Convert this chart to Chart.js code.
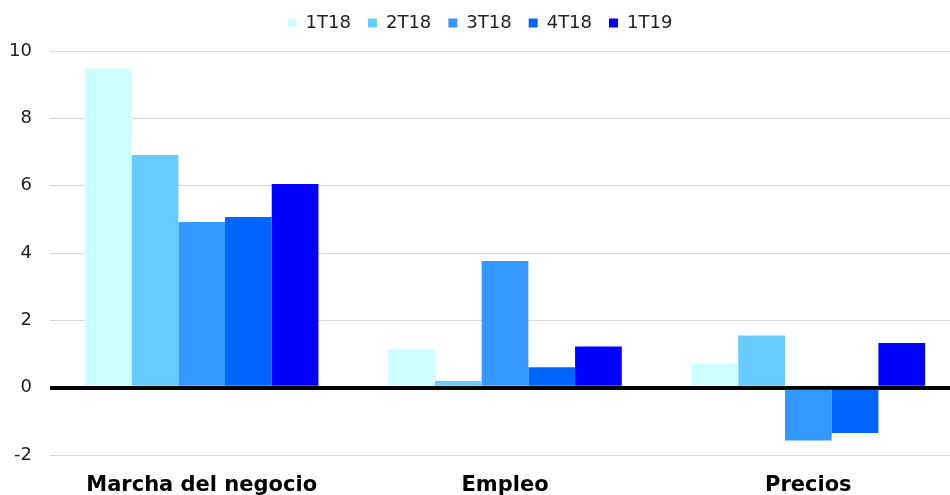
<!DOCTYPE html>
<html>
<head>
<meta charset="utf-8">
<script src="https://cdn.jsdelivr.net/npm/chart.js@4.4.0/dist/chart.umd.min.js"></script>
<style>
  html, body { margin: 0; padding: 0; background: #fff; overflow: hidden; }
  #wrap { position: absolute; left: 0; top: -3px; width: 960px; height: 498px; }
</style>
</head>
<body>
<div id="wrap"><canvas id="chart" width="960" height="498"></canvas></div>
<script>
const categories = ['Marcha del negocio', 'Empleo', 'Precios'];
const seriesNames = ['1T18', '2T18', '3T18', '4T18', '1T19'];
const v1T18 = [9.47, 1.14, 0.72];
const v2T18 = [6.91, 0.20, 1.55];
const v3T18 = [4.92, 3.76, -1.57];
const v4T18 = [5.07, 0.61, -1.35];
const v1T19 = [6.05, 1.22, 1.33];
const colors = ['#CCFFFF', '#66CCFF', '#3399FF', '#0066FF', '#0000FF'];

const allValues = [v1T18, v2T18, v3T18, v4T18, v1T19];

// fix legend height so the plot starts where it does in the picture
const legendHeight = {
  id: 'legendHeight',
  beforeInit(chart) {
    const fit = chart.legend.fit;
    chart.legend.fit = function () {
      fit.call(this);
      this.height = 54;
    };
  }
};

const ctx = document.getElementById('chart').getContext('2d');
new Chart(ctx, {
  type: 'bar',
  data: {
    labels: categories,
    datasets: allValues.map((vals, i) => ({
      label: seriesNames[i],
      data: vals,
      backgroundColor: colors[i],
      borderWidth: 0,
      categoryPercentage: 0.77,
      barPercentage: 1.0
    }))
  },
  options: {
    responsive: false,
    devicePixelRatio: 1,
    animation: false,
    layout: { padding: 0 },
    plugins: {
      tooltip: { enabled: false },
      legend: {
        position: 'top',
        labels: {
          boxWidth: 9,
          boxHeight: 9,
          padding: 17,
          color: '#222',
          font: { family: 'DejaVu Sans', size: 18 }
        }
      }
    },
    scales: {
      x: {
        grid: { display: false },
        border: { display: false },
        ticks: {
          color: '#000',
          padding: 10,
          font: { family: 'DejaVu Sans', size: 21, weight: 'bold' }
        },
        afterFit: (scale) => { scale.height = 40; }
      },
      y: {
        min: -2,
        max: 10,
        border: { display: false },
        grid: {
          drawTicks: false,
          color: (c) => c.tick && c.tick.value === 0 ? '#000' : '#d9d9d9',
          lineWidth: (c) => c.tick && c.tick.value === 0 ? 4 : 1
        },
        ticks: {
          stepSize: 2,
          color: '#222',
          padding: 18,
          font: { family: 'DejaVu Sans', size: 18 }
        },
        afterFit: (scale) => { scale.width = 50; }
      }
    }
  },
  plugins: [legendHeight]
});
</script>
</body>
</html>
